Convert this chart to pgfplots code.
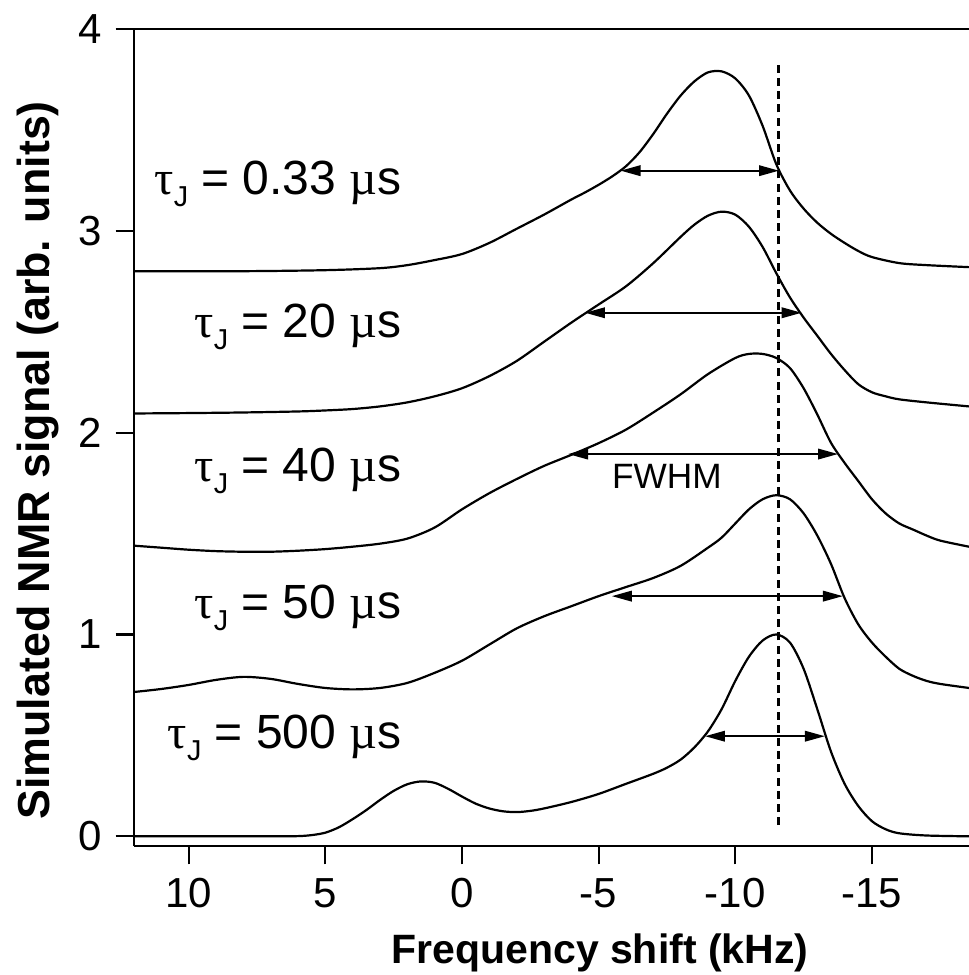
\documentclass[border=0pt]{standalone}
\usepackage{fontspec}
\setmainfont{Liberation Sans}
\newfontfamily\grk{Liberation Serif}
\usepackage{pgfplots}
\pgfplotsset{compat=1.18}
\usetikzlibrary{arrows.meta}
\newcommand\tJ{{\grk τ}\raisebox{-3pt}{\fontsize{7.2}{7.2}\selectfont J}}
\newcommand\us{{\grk µ}s}
\begin{document}
\begin{tikzpicture}
\useasboundingbox (-33.5pt,-32.25pt) rectangle (208.75pt,211.5pt);
\begin{axis}[
 at={(0,0)}, anchor=south west,
 scale only axis, width=208.75pt, height=204.25pt,
 x dir=reverse, xmin=-18.55, xmax=12, ymin=-0.048, ymax=4,
 axis line style={draw=none},
 xtick={-15,-10,-5,0,5,10}, ytick={0,1,2,3,4},
 xtick pos=bottom, ytick pos=left, tick align=outside,
 major tick length=4.6pt,
 tick style={black, line width=0.55pt},
 /pgf/number format/assume math mode=true,
 ticklabel style={font=\fontsize{10.5}{11}\selectfont},
 xlabel={Frequency shift (kHz)}, ylabel={Simulated NMR signal (arb. units)},
 xlabel style={font=\bfseries\fontsize{10.25}{12}\selectfont, at={(axis description cs:0.558,-0.1432)}, anchor=base},
 ylabel style={font=\bfseries\fontsize{11.2}{12}\selectfont, at={(axis description cs:-0.1006,0.472)}, anchor=base},
 clip=false,
 every axis plot/.append style={black, line width=0.55pt},
]
% 500 us
\addplot[smooth] coordinates {
(12,0) (9,0) (7,0) (6,0.001) (5.5,0.006) (5,0.018) (4.5,0.045) (4,0.085) (3.5,0.13) (3,0.18)
(2.5,0.225) (2,0.258) (1.5,0.272) (1,0.265) (0.5,0.235) (0,0.197) (-0.5,0.162) (-1,0.138)
(-1.5,0.124) (-2,0.12) (-2.5,0.126) (-3,0.138) (-4,0.17) (-5,0.21) (-6,0.26) (-7,0.31)
(-7.5,0.34) (-8,0.38) (-8.5,0.44) (-9,0.52) (-9.5,0.63) (-10,0.77) (-10.5,0.89) (-11,0.97)
(-11.5,1.0) (-12,0.96) (-12.5,0.83) (-13,0.63) (-13.5,0.42) (-14,0.26) (-14.5,0.15)
(-15,0.075) (-15.5,0.035) (-16,0.015) (-17,0.004) (-18.55,0)
};
% 50 us
\addplot[smooth] coordinates {
(12,0.715) (11,0.73) (10,0.75) (9,0.775) (8,0.79) (7,0.78) (6,0.755) (5,0.735) (4,0.728)
(3,0.735) (2,0.76) (1,0.81) (0,0.87) (-1,0.95) (-2,1.03) (-3,1.09) (-4,1.14) (-5,1.19)
(-6,1.235) (-7,1.28) (-8,1.34) (-9,1.43) (-9.5,1.48) (-10,1.55) (-10.5,1.62) (-11,1.67)
(-11.5,1.69) (-12,1.67) (-12.5,1.60) (-13,1.49) (-13.5,1.35) (-14,1.18) (-14.5,1.05)
(-15,0.96) (-15.5,0.89) (-16,0.83) (-16.5,0.795) (-17,0.77) (-17.5,0.755) (-18.55,0.735)
};
% 40 us
\addplot[smooth] coordinates {
(12,1.44) (11,1.43) (10,1.42) (9,1.413) (8,1.41) (7,1.41) (6,1.415) (5,1.423) (4,1.435)
(3,1.45) (2,1.475) (1,1.53) (0,1.62) (-1,1.70) (-2,1.77) (-3,1.835) (-4,1.89) (-5,1.948)
(-6,2.015) (-7,2.1) (-8,2.19) (-9,2.29) (-10,2.37) (-10.5,2.39) (-11,2.39) (-11.5,2.37)
(-12,2.32) (-12.5,2.22) (-13,2.09) (-13.5,1.95) (-14,1.85) (-14.5,1.76) (-15,1.67)
(-15.5,1.60) (-16,1.55) (-16.5,1.52) (-17,1.49) (-17.5,1.465) (-18.55,1.435)
};
% 20 us
\addplot[smooth] coordinates {
(12,2.095) (10,2.097) (8,2.10) (6,2.105) (5,2.11) (4,2.117) (3,2.13) (2,2.15) (1,2.18)
(0,2.22) (-1,2.28) (-2,2.355) (-3,2.45) (-4,2.545) (-5,2.635) (-6,2.725) (-7,2.84) (-8,2.97)
(-8.5,3.03) (-9,3.075) (-9.5,3.095) (-10,3.08) (-10.5,3.02) (-11,2.92) (-11.5,2.79)
(-12,2.67) (-12.5,2.57) (-13,2.48) (-13.5,2.39) (-14,2.31) (-14.5,2.24) (-15,2.2)
(-15.5,2.18) (-16,2.165) (-17,2.15) (-18.55,2.13)
};
% 0.33 us
\addplot[smooth] coordinates {
(12,2.80) (8,2.80) (5,2.805) (3,2.815) (2,2.83) (1,2.855) (0,2.885) (-1,2.94) (-2,3.01)
(-3,3.08) (-4,3.155) (-4.5,3.19) (-5,3.228) (-5.5,3.27) (-6,3.32) (-6.5,3.39) (-7,3.48) (-7.5,3.58)
(-8,3.67) (-8.5,3.74) (-9,3.785) (-9.5,3.79) (-10,3.755) (-10.5,3.67) (-11,3.52)
(-11.5,3.33) (-12,3.2) (-12.5,3.11) (-13,3.04) (-13.5,2.985) (-14,2.94) (-14.5,2.9)
(-15,2.87) (-16,2.84) (-17,2.83) (-18.55,2.82)
};
% dashed reference line
\addplot[dash pattern=on 2pt off 1.3pt, line width=0.65pt] coordinates {(-11.57,0.055) (-11.57,3.83)};
% FWHM arrows
\addplot[{Triangle[length=5pt,width=2.6pt]}-{Triangle[length=5pt,width=2.6pt]}] coordinates {(-5.8,3.298) (-11.6,3.298)};
\addplot[{Triangle[length=5pt,width=2.6pt]}-{Triangle[length=5pt,width=2.6pt]}] coordinates {(-4.5,2.594) (-12.43,2.594)};
\addplot[{Triangle[length=5pt,width=2.6pt]}-{Triangle[length=5pt,width=2.6pt]}] coordinates {(-3.88,1.894) (-13.76,1.894)};
\addplot[{Triangle[length=5pt,width=2.6pt]}-{Triangle[length=5pt,width=2.6pt]}] coordinates {(-5.48,1.19) (-13.94,1.19)};
\addplot[{Triangle[length=5pt,width=2.6pt]}-{Triangle[length=5pt,width=2.6pt]}] coordinates {(-8.89,0.496) (-13.28,0.496)};
% axis lines
\draw[line width=0.55pt] (axis description cs:0,0) -- (axis description cs:1,0);
\draw[line width=0.55pt] (axis description cs:0,1) -- (axis description cs:1,1);
\draw[line width=0.55pt] (axis description cs:0,0) -- (axis description cs:0,1);
% labels
\node[anchor=base east, font=\fontsize{12}{13}\selectfont, inner sep=0pt] at (axis cs:2.19,3.178) {\tJ{} = 0.33 \us};
\node[anchor=base east, font=\fontsize{12}{13}\selectfont, inner sep=0pt] at (axis cs:2.19,2.469) {\tJ{} = 20 \us};
\node[anchor=base east, font=\fontsize{12}{13}\selectfont, inner sep=0pt] at (axis cs:2.19,1.757) {\tJ{} = 40 \us};
\node[anchor=base east, font=\fontsize{12}{13}\selectfont, inner sep=0pt] at (axis cs:2.19,1.081) {\tJ{} = 50 \us};
\node[anchor=base east, font=\fontsize{12}{13}\selectfont, inner sep=0pt] at (axis cs:2.19,0.436) {\tJ{} = 500 \us};
\node[anchor=base, font=\fontsize{8.8}{10}\selectfont, inner sep=0pt] at (axis cs:-7.5,1.725) {FWHM};
\end{axis}
\end{tikzpicture}
\end{document}
